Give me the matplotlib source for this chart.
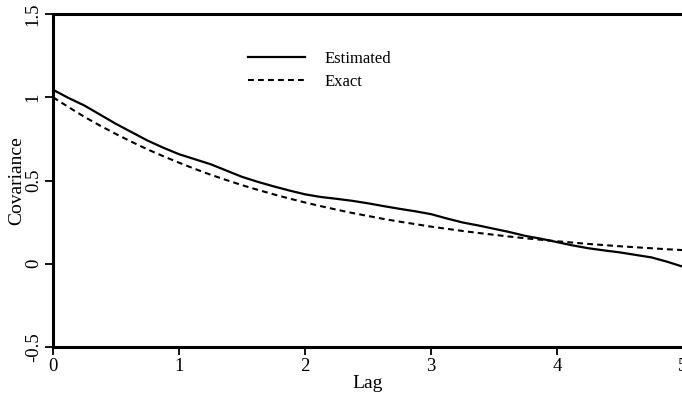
import matplotlib
matplotlib.use("Agg")
import matplotlib.pyplot as plt

plt.rcParams['font.family'] = ['Liberation Serif', 'DejaVu Serif']

# Covariance as a function of lag
lag = [0.0, 0.125, 0.25, 0.375, 0.5, 0.625, 0.75, 0.875,
       1.0, 1.125, 1.25, 1.375, 1.5, 1.625, 1.75, 1.875,
       2.0, 2.125, 2.25, 2.375, 2.5, 2.625, 2.75, 2.875,
       3.0, 3.125, 3.25, 3.375, 3.5, 3.625, 3.75, 3.875,
       4.0, 4.125, 4.25, 4.375, 4.5, 4.625, 4.75, 4.875, 5.0]
estimated = [1.045, 0.995, 0.95, 0.895, 0.84, 0.79, 0.74, 0.697,
             0.658, 0.628, 0.598, 0.56, 0.522, 0.492, 0.465, 0.44,
             0.417, 0.401, 0.39, 0.378, 0.363, 0.346, 0.33, 0.315,
             0.298, 0.272, 0.248, 0.23, 0.21, 0.19, 0.167, 0.15,
             0.13, 0.11, 0.093, 0.08, 0.068, 0.053, 0.038, 0.012, -0.018]
exact = [1.0, 0.94, 0.882, 0.829, 0.779, 0.732, 0.687, 0.646,
         0.607, 0.57, 0.535, 0.503, 0.472, 0.444, 0.417, 0.392,
         0.368, 0.346, 0.325, 0.305, 0.287, 0.269, 0.253, 0.238,
         0.223, 0.21, 0.197, 0.185, 0.174, 0.163, 0.153, 0.144,
         0.135, 0.127, 0.119, 0.112, 0.105, 0.099, 0.093, 0.087, 0.082]

x_ticks = [0, 1, 2, 3, 4, 5]
y_ticks = [-0.5, 0, 0.5, 1, 1.5]
y_tick_labels = ['-0.5', '0', '0.5', '1', '1.5']

fig = plt.figure(figsize=(6.82, 3.98), dpi=100)
ax = fig.add_axes([53 / 682, 1 - 347 / 398, 630 / 682, 333 / 398])

ax.plot(lag, estimated, color='black', lw=1.6, label='Estimated',
        solid_joinstyle='round')
ax.plot(lag, exact, color='black', lw=1.5, dashes=(2.8, 2.0), label='Exact')

ax.set_xlim(0, 5)
ax.set_ylim(-0.5, 1.5)
ax.set_xticks(x_ticks)
ax.set_xticklabels([str(t) for t in x_ticks])
ax.set_yticks(y_ticks)
ax.set_yticklabels(y_tick_labels, rotation=90, va='center')

for side in ('left', 'bottom', 'top'):
    ax.spines[side].set_linewidth(2.2)
ax.spines['right'].set_visible(False)

ax.tick_params(axis='both', direction='out', length=6, width=1.3,
               labelsize=13.5, pad=2)

ax.set_xlabel('Lag', fontsize=14, labelpad=0)
ax.set_ylabel('Covariance', fontsize=14, labelpad=0)

ax.legend(loc='upper left', bbox_to_anchor=(0.31, 0.89), frameon=False,
          fontsize=12, handlelength=3.4, handletextpad=1.2,
          borderpad=0, borderaxespad=0, labelspacing=0.42)

fig.savefig('out.png', dpi=100)
